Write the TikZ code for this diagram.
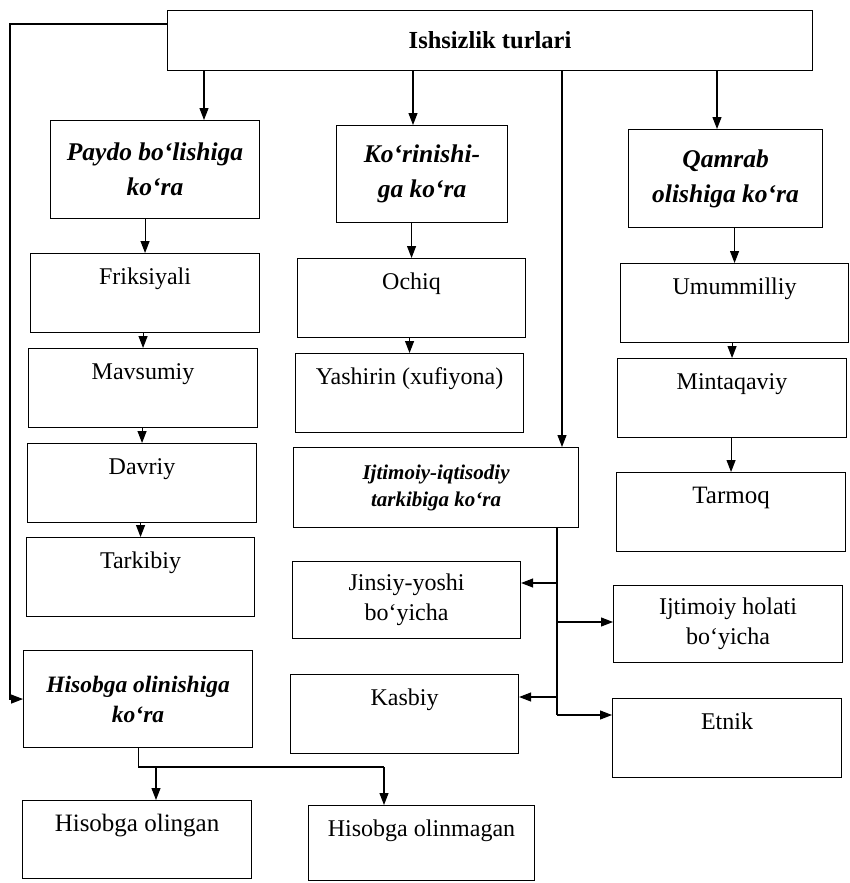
\documentclass[tikz,border=0pt]{standalone}
\usepackage{fontspec}
\setmainfont{Liberation Serif}
\usetikzlibrary{arrows.meta}

\tikzset{
  box/.style={draw, line width=1.1pt, anchor=north west, inner sep=0pt,
    font=\fontsize{24}{30}\selectfont},
  turbox/.style={box, text height=31pt, text depth=48pt},
  ikkibox/.style={box, align=center},
  katbox/.style={box, align=center, font=\fontsize{25.5}{35}\selectfont\bfseries\itshape},
  arr/.style={line width=1.1pt, -{Triangle[length=12pt,width=9pt]}},
  chiz/.style={line width=1.1pt}
}

\begin{document}
\begin{tikzpicture}[x=1pt,y=-1pt]
    \useasboundingbox (0,0) rectangle (849,883);

    % Bosh blok
    \node[box, minimum width=645pt, minimum height=60pt,
          font=\fontsize{24.5}{26}\selectfont\bfseries] (ishs) at (167,10) {Ishsizlik turlari};

    % Turkumlar
    \node[katbox, minimum width=209pt, minimum height=98pt] (paydo) at (50,120) {Paydo bo‘lishiga\\ko‘ra};
    \node[katbox, minimum width=171pt, minimum height=97pt] (korin) at (336,125) {Ko‘rinishi-\\ga ko‘ra};
    \node[katbox, minimum width=194pt, minimum height=98pt] (qamrab) at (628,129) {Qamrab\\olishiga ko‘ra};
    \node[katbox, minimum width=285pt, minimum height=80pt,
          font=\fontsize{21}{27}\selectfont\bfseries\itshape] (ijt) at (293,447) {Ijtimoiy-iqtisodiy\\tarkibiga ko‘ra};
    \node[katbox, minimum width=229pt, minimum height=97pt,
          font=\fontsize{23.5}{30}\selectfont\bfseries\itshape] (hisob) at (23,650) {Hisobga olinishiga\\ko‘ra};

    % Paydo bo'lishiga ko'ra
    \node[turbox, minimum width=229pt] (frik) at (30,253) {Friksiyali};
    \node[turbox, minimum width=229pt] (mavs) at (28,348) {Mavsumiy};
    \node[turbox, minimum width=229pt] (davr) at (27,443) {Davriy};
    \node[turbox, minimum width=228pt] (tark) at (26,537) {Tarkibiy};

    % Ko'rinishiga ko'ra
    \node[turbox, minimum width=228pt] (ochiq) at (297,258) {Ochiq};
    \node[turbox, minimum width=228pt] (yash) at (295,353) {Yashirin (xufiyona)};

    % Qamrab olishiga ko'ra
    \node[turbox, minimum width=228pt] (umum) at (620,263) {Umummilliy};
    \node[turbox, minimum width=229pt] (mint) at (617,358) {Mintaqaviy};
    \node[turbox, minimum width=229pt, font=\fontsize{25}{30}\selectfont] (tarm) at (616,472) {Tarmoq};

    % Ijtimoiy-iqtisodiy tarkibiga ko'ra
    \node[ikkibox, minimum width=228pt, minimum height=77pt] (jins) at (292,561) {Jinsiy-yoshi\\bo‘yicha};
    \node[ikkibox, minimum width=229pt, minimum height=77pt] (ijth) at (613,585) {Ijtimoiy holati\\bo‘yicha};
    \node[turbox, minimum width=228pt] (kasb) at (290,674) {Kasbiy};
    \node[turbox, minimum width=229pt] (etn) at (612,698) {Etnik};

    % Hisobga olinishiga ko'ra
    \node[turbox, minimum width=229pt, text depth=47pt,
          font=\fontsize{25}{30}\selectfont] (hol) at (22,800) {Hisobga olingan\hspace{26pt}};
    \node[turbox, minimum width=226pt, text depth=44pt] (holm) at (308,805) {Hisobga olinmagan};

    % Bosh blokdan strelkalar
    \draw[arr] (ishs.south -| 204,0) -- (paydo.north -| 204,0);
    \draw[arr] (ishs.south -| 413,0) -- (korin.north -| 413,0);
    \draw[arr] (ishs.south -| 717,0) -- (qamrab.north -| 717,0);
    \draw[arr] (ishs.south -| 562,0) -- (ijt.north -| 562,0);
    \draw[arr] (ishs.west |- 0,24) -- (10,24) |- (hisob.west);

    % Ustunlar
    \foreach \a/\b in {paydo/frik, frik/mavs, mavs/davr, davr/tark,
                       korin/ochiq, ochiq/yash,
                       qamrab/umum, umum/mint, mint/tarm} {
        \draw[arr] (\b.north |- \a.south) -- (\b.north);
    }

    % Ijtimoiy-iqtisodiy tarmoqlanish
    \coordinate (tj) at (557,583);
    \coordinate (th) at (557,622);
    \coordinate (tk) at (557,697);
    \coordinate (te) at (557,715);
    \draw[chiz] (ijt.south -| te) -- (te);
    \draw[arr] (tj) -- (tj -| jins.east);
    \draw[arr] (th) -- (th -| ijth.west);
    \draw[arr] (tk) -- (tk -| kasb.east);
    \draw[arr] (te) -- (te -| etn.west);

    % Hisobga olinishi
    \coordinate (jl) at (156,767);
    \coordinate (jr) at (384,767);
    \draw[chiz] (hisob.south) |- (jr);
    \draw[arr] (jl) -- (jl |- hol.north);
    \draw[arr] (jr) -- (jr |- holm.north);
\end{tikzpicture}
\end{document}
